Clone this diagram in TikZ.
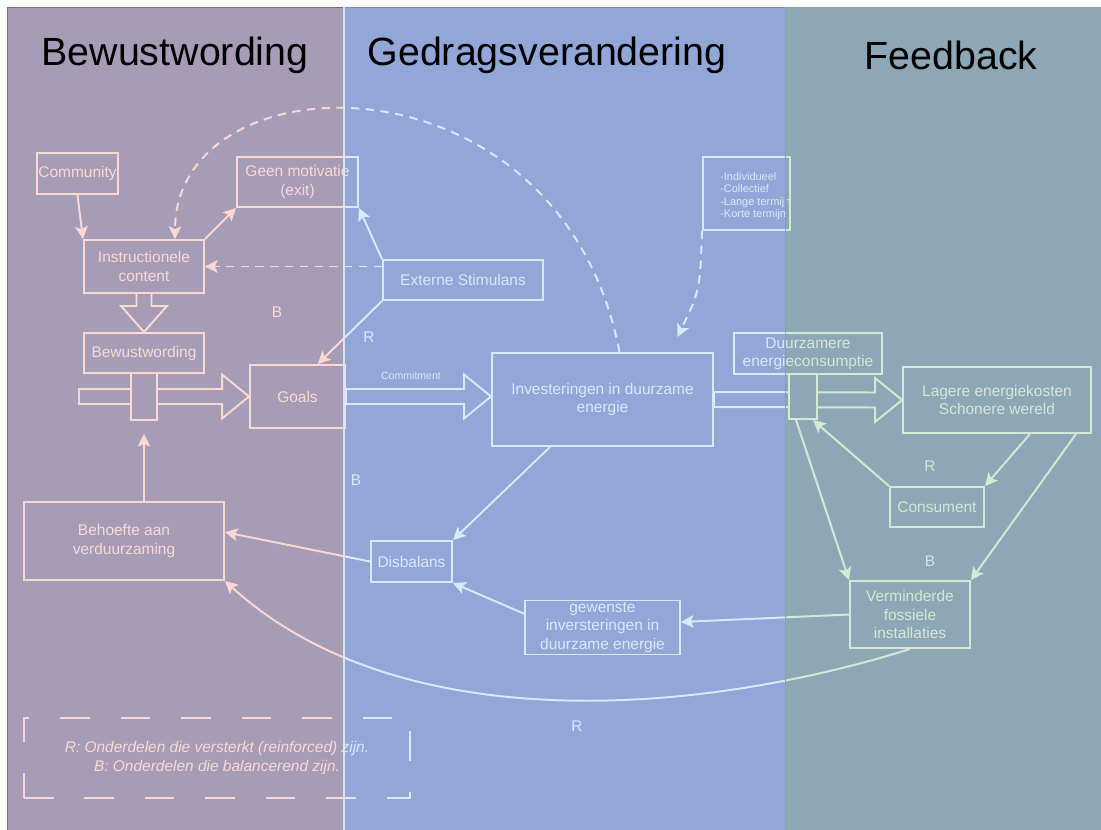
\documentclass[tikz,border=0pt]{standalone}
\usepackage{fontspec}
\setmainfont{Liberation Sans}
\usetikzlibrary{arrows.meta,calc}

\definecolor{basefill}{RGB}{171,184,219}
\definecolor{tintleft}{RGB}{250,217,213}
\definecolor{tintmid}{RGB}{218,232,252}
\definecolor{tintright}{RGB}{213,232,212}
\definecolor{rimleft}{RGB}{184,84,80}
\definecolor{rimmid}{RGB}{108,142,191}
\definecolor{rimright}{RGB}{130,179,102}

\newcommand{\pxu}{0.025cm}

\tikzset{
  wh/.style 2 args={minimum width=#1*\pxu, minimum height=#2*\pxu},
  box/.style={draw=white, text=white, line width=1.4pt, inner sep=0pt, align=center,
    font=\fontsize{11}{13}\selectfont},
  lbl/.style={text=white, font=\fontsize{11}{13}\selectfont},
  title/.style={text=black, font=\fontsize{28}{32}\selectfont},
  link/.style={draw=white, line width=1.4pt, -{Stealth[length=9pt,width=9pt,inset=2pt]}},
  dashlink/.style={link, dash pattern=on 6pt off 4.5pt},
  fat/.style={draw=white, line width=1.4pt, line join=miter},
}

% hollow arrow between two points at the same height
\newcommand{\fatarrow}[2]{%
  \draw[fat] ($(#1)+(0,-7.5)$) -- ($(#2)+(-27,-7.5)$) -- ($(#2)+(-27,-22)$) -- (#2)
    -- ($(#2)+(-27,22)$) -- ($(#2)+(-27,7.5)$) -- ($(#1)+(0,7.5)$) -- cycle;}

\begin{document}
\begin{tikzpicture}[x=\pxu, y=-\pxu]
  \useasboundingbox (0,0) rectangle (1101,830);
  \fill[basefill] (7,7) rectangle (1101,830);

  % titles
  \node[title] (ttlA) at (175,55) {Bewustwording};
  \node[title] (ttlB) at (547,55) {Gedragsverandering};
  \node[title] (ttlC) at (951,55) {Feedback};

  % bewustwording
  \node[box, wh={81}{41}] (community) at (77.5,173.5) {Community};
  \node[box, wh={121}{50}] (geen) at (297.5,182) {Geen motivatie\\(exit)};
  \node[box, wh={120}{53}] (instr) at (144,266.5) {Instructionele\\content};
  \node[box, wh={120}{40}] (bewust) at (144,353) {Bewustwording};
  \node[box, wh={95}{63}] (goals) at (297.5,396.5) {Goals};
  \node[box, wh={200}{78}] (behoefte) at (124,541) {Behoefte aan\\verduurzaming};

  % gedragsverandering
  \node[box, wh={160}{40}] (externe) at (463,280) {Externe Stimulans};
  \node[box, wh={221}{93}] (invest) at (602.5,399.5) {Investeringen in duurzame\\energie};
  \node[box, wh={81}{41}] (disbalans) at (411.5,561.5) {Disbalans};
  \node[box, wh={155}{54}] (gewenste) at (602.5,627.5) {gewenste\\inversteringen in\\duurzame energie};
  \node[box, wh={148}{41}] (duurz) at (808,353.5) {Duurzamere\\energieconsumptie};
  \node[box, wh={87}{73}] (indiv) at (746.5,193.5) {};
  \node[lbl, anchor=west, inner sep=0pt, align=left, font=\fontsize{7.8}{8.9}\selectfont]
    (indivlist) at (720,196) {-Individueel\\-Collectief\\-Lange termijn\\-Korte termijn};

  % feedback
  \node[box, wh={188}{66}] (lagere) at (997,400) {Lagere energiekosten\\Schonere wereld};
  \node[box, wh={94}{40}] (consument) at (937,507) {Consument};
  \node[box, wh={120}{67}] (vermind) at (910,614.5) {Verminderde\\fossiele\\installaties};

  % loop letters
  \node[lbl] (loopB1) at (277,312) {B};
  \node[lbl] (loopR1) at (369,337) {R};
  \node[lbl] (loopB2) at (356,480) {B};
  \node[lbl] (loopR2) at (577,726) {R};
  \node[lbl] (loopR3) at (930,466) {R};
  \node[lbl] (loopB3) at (930,561) {B};
  \node[lbl, font=\fontsize{7.5}{9}\selectfont] (commit) at (411,376) {Commitment};

  % hollow arrows
  \coordinate (inflow) at (79,396.5);
  \coordinate (investin) at (invest.west |- goals.east);
  \fatarrow{inflow}{goals.west}
  \fatarrow{goals.east}{investin}
  \fatarrow{invest.east}{lagere.west}
  \draw[fat] ($(instr.south)+(-7.5,0)$) -- ($(instr.south)+(-7.5,12)$) -- ($(instr.south)+(-23,12)$)
    -- (bewust.north) -- ($(instr.south)+(23,12)$) -- ($(instr.south)+(7.5,12)$) -- ($(instr.south)+(7.5,0)$);
  \node[box, fill=basefill, wh={26}{47}] (valveL) at (144,396.5) {};
  \node[box, fill=basefill, wh={28}{45}] (valveR) at (803,396.5) {};

  % connectors
  \draw[link] (community.south) -- (instr.north west);
  \draw[link] (instr.north east) -- (geen.south west);
  \draw[link] (externe.north west) -- (geen.south east);
  \draw[link] (externe.south west) -- (goals.58);
  \draw[dashlink] (instr.east -| externe.west) -- (instr.east);
  \draw[dashlink] ($(invest.north)+(17,0)$) .. controls (560,45) and (175,55) .. ($(instr.north)+(31,0)$);
  \draw[dashlink] (indiv.south west) .. controls (700,290) .. ($(invest.north)+(75,-15)$);
  \draw[link] ($(invest.south west)+(59,0)$) -- (disbalans.north east);
  \draw[link] (disbalans.west) -- (behoefte.5);
  \draw[link] (gewenste.170) -- (disbalans.south east);
  \draw[link] (vermind.west) -- (gewenste.4);
  \draw[link] (vermind.south) .. controls (700,715) and (400,740) .. (behoefte.south east);
  \draw[link] (behoefte.north -| valveL.south) -- ($(valveL.south)+(0,13)$);
  \draw[link] (consument.north west) -- ($(valveR.south east)+(-5,0)$);
  \draw[link] ($(lagere.south)+(33,0)$) -- (consument.north east);
  \draw[link] ($(lagere.south east)+(-16,0)$) -- (vermind.north east);
  \draw[link] ($(valveR.south west)+(8,0)$) -- (vermind.north west);

  % legend
  \node[box, dash pattern=on 21pt off 22pt, wh={386}{80}, font=\itshape\fontsize{11}{13.5}\selectfont]
    (legend) at (217,758) {R: Onderdelen die versterkt (reinforced) zijn.\\B: Onderdelen die balancerend zijn.};

  % tinted lanes
  \begin{scope}[blend mode=multiply]
    \fill[tintleft] (7,7) rectangle (343,830);
    \fill[tintmid] (343,7) rectangle (785,830);
    \fill[tintright] (785,7) rectangle (1101,830);
  \end{scope}
  \draw[rimleft, line width=0.6pt] (7,830) -- (7,7) -- (343,7);
  \draw[rimmid, line width=0.6pt] (343,7) -- (785,7);
  \draw[rimright, line width=0.6pt] (785,7) -- (1101,7);
  \draw[rimright, line width=0.6pt] (785,7) -- (785,830);
  \draw[white!75!rimmid, line width=1.5pt] (344,7) -- (344,830);
\end{tikzpicture}
\end{document}
